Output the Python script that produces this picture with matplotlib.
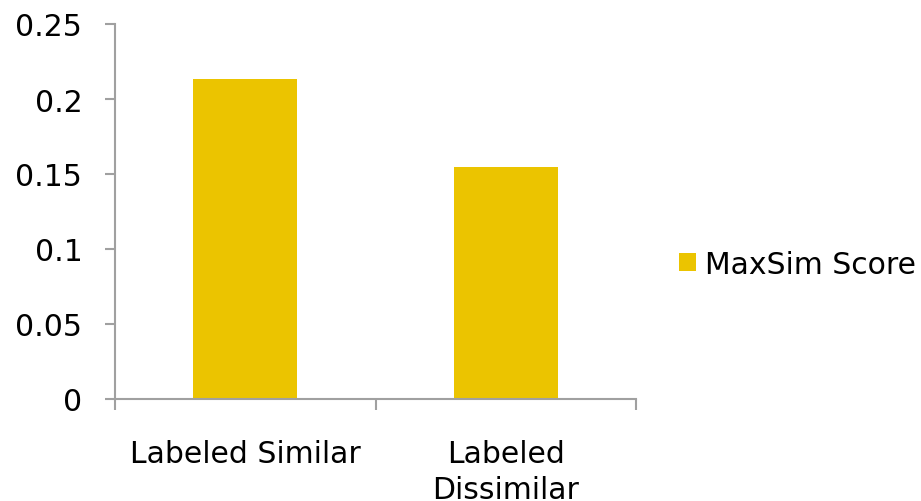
import matplotlib
matplotlib.use("Agg")
import matplotlib.pyplot as plt
from matplotlib.patches import Patch

plt.rcParams['font.family'] = ['DejaVu Sans']

categories = ["Labeled Similar", "Labeled\nDissimilar"]
scores = [0.2133, 0.1547]
series_name = "MaxSim Score"
yticks = [0, 0.05, 0.1, 0.15, 0.2, 0.25]
ytick_labels = ["0", "0.05", "0.1", "0.15", "0.2", "0.25"]

bar_color = "#EBC400"
axis_color = "#A0A0A0"
fs = 21.5

fig = plt.figure(figsize=(9.21, 5.02), dpi=100)
ax = fig.add_axes([115 / 921, 1 - 400 / 502, (636 - 115) / 921, (400 - 25) / 502])

x = list(range(len(categories)))
ax.bar(x, scores, width=0.4, color=bar_color, zorder=2)

ax.set_xlim(-0.5, len(categories) - 0.5)
ax.set_ylim(0, 0.25)
ax.set_yticks(yticks)
ax.set_yticklabels(ytick_labels)

# category labels sit between the boundary ticks
ax.set_xticks(x)
ax.set_xticklabels(categories, linespacing=1.3)
ax.set_xticks([i - 0.5 for i in range(len(categories) + 1)], minor=True)
ax.tick_params(axis='x', which='major', length=0, pad=29, labelsize=fs)
ax.tick_params(axis='x', which='minor', length=8, width=1.5, color=axis_color, direction='out')
ax.tick_params(axis='y', length=7.5, width=1.5, color=axis_color, pad=16, labelsize=fs)

for side in ("top", "right"):
    ax.spines[side].set_visible(False)
for side in ("left", "bottom"):
    ax.spines[side].set_color(axis_color)
    ax.spines[side].set_linewidth(1.5)

handle = Patch(facecolor=bar_color, edgecolor='none')
fig.legend([handle], [series_name], loc='center left',
           bbox_to_anchor=(679 / 921, 1 - 265 / 502), frameon=False,
           borderaxespad=0, borderpad=0,
           fontsize=fs, handlelength=0.57, handleheight=0.57, handletextpad=0.3)

fig.savefig("out.png", dpi=100)
